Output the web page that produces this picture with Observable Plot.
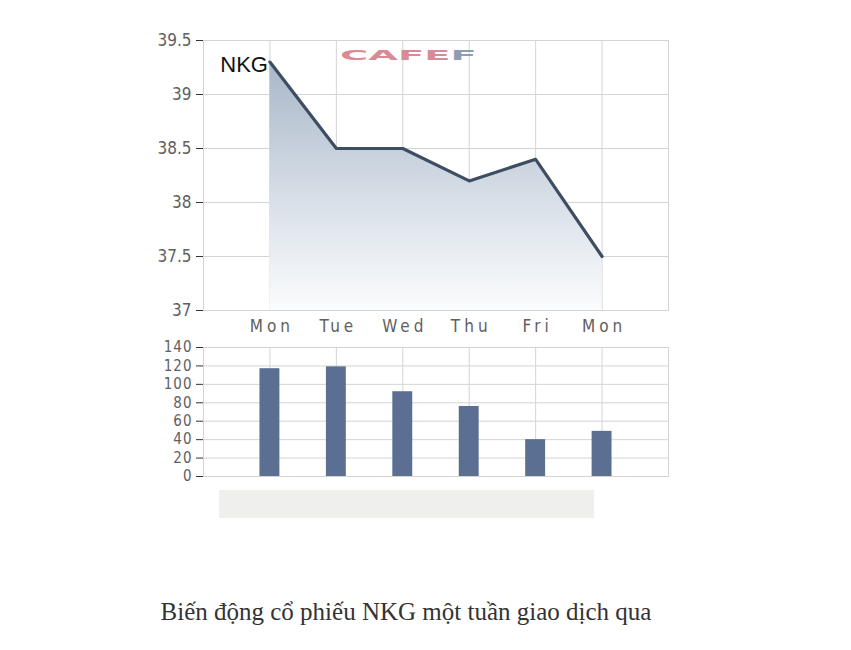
<!DOCTYPE html>
<html>
<head>
<meta charset="utf-8">
<script src="https://cdn.jsdelivr.net/npm/d3@7"></script>
<script src="https://cdn.jsdelivr.net/npm/@observablehq/plot@0.6"></script>
<style>
  html, body { margin: 0; padding: 0; background: #fff; }
  #page { position: relative; width: 851px; height: 650px; overflow: hidden; }
  #topChart, #bottomChart { position: absolute; left: 0; }
  #topChart { top: 0; }
  #bottomChart { top: 330px; }
  #scroller { position: absolute; left: 219px; top: 490px; width: 375px; height: 28px; background: #eff0ee; }
  #caption { position: absolute; left: 0; width: 812px; top: 598px; text-align: center;
             font-family: "Liberation Serif", "Times New Roman", serif; font-size: 25px; color: #333; }
  svg text { font-stretch: condensed; }
  #topChart g[aria-label="x-axis tick label"] text { letter-spacing: 4px; }
  #bottomChart g[aria-label="y-axis tick label"] text { letter-spacing: 1px; }
</style>
</head>
<body>
<div id="page">
  <div id="topChart"></div>
  <div id="bottomChart"></div>
  <div id="scroller"></div>
  <div id="caption">Biến động cổ phiếu NKG một tuần giao dịch qua</div>
</div>
<script>
// ---- data ----
const days = ["Mon", "Tue", "Wed", "Thu", "Fri", "Mon"];
const prices = [39.3, 38.5, 38.5, 38.2, 38.4, 37.5];
const volumes = [117, 119, 92, 76, 40, 49];
const priceTicks = [37, 37.5, 38, 38.5, 39, 39.5];
const volumeTicks = [0, 20, 40, 60, 80, 100, 120, 140];
const ticker = "NKG";

const rows = days.map((d, i) => ({pos: i + 1, day: d, price: prices[i], volume: volumes[i]}));
const slotEdges = d3.range(0, days.length + 2);
const fontFam = '"DejaVu Sans Condensed", "Liberation Sans Narrow", "DejaVu Sans", sans-serif';

// ---- top price chart ----
const priceChart = Plot.plot({
  width: 851, height: 340,
  marginLeft: 203, marginRight: 183, marginTop: 40, marginBottom: 30,
  style: {fontFamily: fontFam, fontSize: "17px", background: "transparent"},
  x: {type: "linear", domain: [0, days.length + 1], axis: null},
  y: {domain: [37, 39.5], axis: null},
  marks: [
    Plot.gridY(priceTicks, {stroke: "#d4d4d4", strokeOpacity: 1}),
    Plot.gridX(slotEdges, {stroke: "#d4d4d4", strokeOpacity: 1}),
    Plot.areaY(rows, {x: "pos", y1: 37, y2: "price", fill: "url(#areaGrad)"}),
    Plot.lineY(rows, {x: "pos", y: "price", stroke: "#3e4e62", strokeWidth: 3.2}),
    Plot.frame({stroke: "#d4d4d4"}),
    Plot.axisY(priceTicks, {label: null, tickSize: 7, tickPadding: 5, stroke: "#333", fill: "#606060", tickFormat: d => String(d), fontSize: 17}),
    Plot.axisX(rows.map(r => r.pos), {label: null, tickSize: 0, tickPadding: 9, fill: "#606060", tickFormat: p => days[p - 1], fontSize: 17, dx: 2}),
    Plot.text(rows.slice(0, 1), {x: "pos", y: "price", text: () => ticker, textAnchor: "end", dx: -2, dy: 3,
      fontSize: 22, fontFamily: '"Liberation Sans", Arial, sans-serif', fill: "#111"})
  ]
});
document.getElementById("topChart").appendChild(priceChart);

const svgTop = d3.select(priceChart);
const defs = svgTop.insert("defs", ":first-child");
const grad = defs.append("linearGradient").attr("id", "areaGrad")
  .attr("x1", 0).attr("y1", 0).attr("x2", 0).attr("y2", 1);
grad.append("stop").attr("offset", "0%").attr("stop-color", "#a9b7c8");
grad.append("stop").attr("offset", "60%").attr("stop-color", "#dbe2ea");
grad.append("stop").attr("offset", "100%").attr("stop-color", "#fbfcfd");

// CAFEF watermark
const logo = svgTop.append("text")
  .attr("text-anchor", "start")
  .attr("transform", "translate(340,60) scale(2.75,1)")
  .style("font-family", '"DejaVu Sans", sans-serif').style("font-weight", "bold")
  .style("font-size", "14px").style("font-stretch", "normal");
logo.append("tspan").attr("fill", "#d88b94").text("CAFE");
logo.append("tspan").attr("fill", "#8e9db3").text("F");

// ---- bottom volume chart ----
const volumeChart = Plot.plot({
  width: 851, height: 156,
  marginLeft: 203, marginRight: 183, marginTop: 17, marginBottom: 10,
  style: {fontFamily: fontFam, fontSize: "15px", background: "transparent"},
  x: {type: "linear", domain: [0, days.length + 1], axis: null},
  y: {domain: [0, 140], axis: null},
  marks: [
    Plot.gridY(volumeTicks, {stroke: "#d4d4d4", strokeOpacity: 1}),
    Plot.gridX(slotEdges, {stroke: "#d4d4d4", strokeOpacity: 1}),
    Plot.rectY(rows, {x1: d => d.pos - 0.15, x2: d => d.pos + 0.15, y: "volume", fill: "#5b6f93"}),
    Plot.frame({stroke: "#d4d4d4"}),
    Plot.axisY(volumeTicks, {label: null, tickSize: 7, tickPadding: 4, stroke: "#333", fill: "#606060", fontSize: 15})
  ]
});
document.getElementById("bottomChart").appendChild(volumeChart);
</script>
</body>
</html>
